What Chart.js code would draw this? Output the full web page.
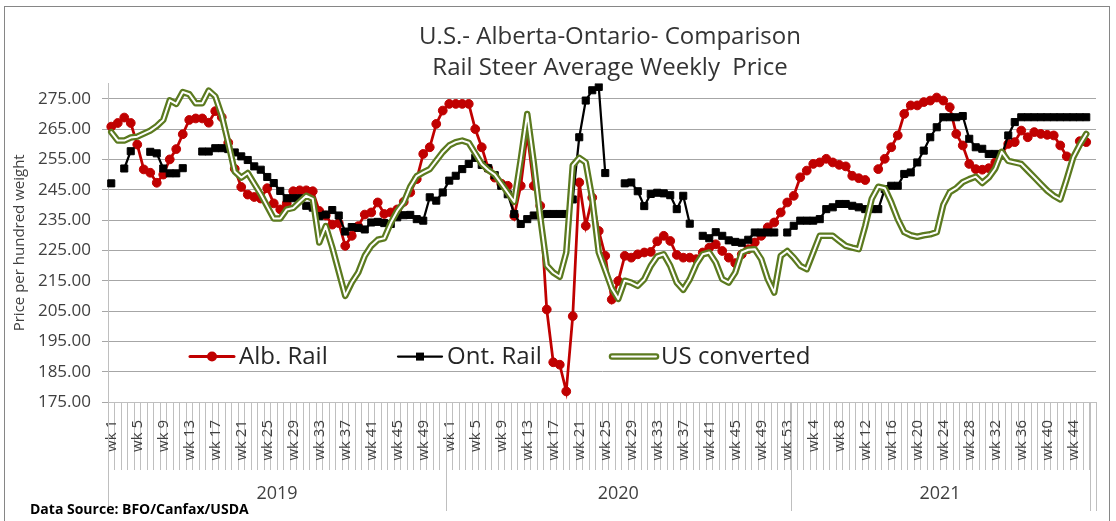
<!DOCTYPE html>
<html>
<head>
<meta charset="utf-8">
<title>U.S.- Alberta-Ontario- Comparison</title>
<script src="https://cdn.jsdelivr.net/npm/chart.js@4.4.1/dist/chart.umd.min.js"></script>
<style>
  html, body { margin: 0; padding: 0; background: #fff; }
</style>
</head>
<body>
<canvas id="priceChart" width="1116" height="521"></canvas>
<script>
// === Categories: weekly, grouped by year (one empty slot at the end) ===
const years = ['2019', '2020', '2021'];
const weeksPerYear = [52, 53, 46];
const xLabels = [];
weeksPerYear.forEach(function (n) {
    for (let w = 1; w <= n; w++) xLabels.push('wk ' + w);
});
xLabels.push('');

const yTicks = [175, 185, 195, 205, 215, 225, 235, 245, 255, 265, 275];

// === Series ($ per hundred weight) ===
const albRail = [
    265.8, 267, 268.8, 267, 259.9, 251.7, 250.6, 247.3, 250, 255,
    258.4, 263.3, 268, 268.5, 268.5, 267.1, 270.9, 268.9, 260.5, 251.9,
    245.9, 243.4, 242.6, 242.1, 245.5, 240.5, 238.5, 240.5, 244.5, 244.8,
    244.8, 244.5, 238, 236.5, 233.5, 234, 226.5, 229.8, 233, 236.8,
    237.5, 240.8, 237, 237.5, 238.5, 241, 244.1, 248.5, 256.8, 259,
    266.7, 271.1,
    273.3, 273.3, 273.3, 273.3, 265, 259, 252, 249, 247, 246.3,
    236.4, 246.3, 263.4, 246.3, 239.7, 205.5, 188.1, 187.3, 178.5, 203.3,
    247.4, 233.1, 242.4, 231.4, 223.2, 208.8, 214.9, 223.2, 222.6, 223.7,
    224.3, 224.5, 228, 229.8, 228.1, 223.5, 222.6, 222.6, 222.1, 224.3,
    225.9, 227, 224.8, 222.6, 220.8, 223.7, 225.4, 227.6, 229.8, 232.6,
    234.2, 237.5, 240.8,
    243, 249.1, 251.3, 253.5, 254, 255.2, 254, 253.2, 252.7, 249.6,
    248.8, 248.2, null, 251.8, 255.2, 259, 262.9, 270, 272.8, 272.8,
    273.9, 274.4, 275.4, 274.4, 272.2, 263.4, 259.6, 253.5, 251.8, 251.6,
    252.1, 254, 256.8, 260.1, 260.7, 264.5, 262.3, 264, 263.4, 263.1,
    262.9, 259.6, 256, null, 261, 260.7,
    null
];

const ontRail = [
    247.1, null, 252, 257.7, null, null, 257.5, 257, 252, 250.4,
    250.4, 252.1, null, null, 257.6, 257.6, 258.7, 258.7, 258.4, 257.3,
    256, 254.8, 252.7, 251.6, 249.2, 247.2, 244.6, 242.2, 242.2, 242.2,
    239.7, 239.1, 236.3, 236.8, 238.3, 236.5, 231.2, 232.7, 232.4, 231.9,
    234.2, 234.4, 234, 233.7, 235.9, 236.6, 236.7, 235.3, 234.8, 242.5,
    241.4, 244.1,
    248, 249.6, 251.8, 253.5, 255.5, 253.2, 252.1, 249.8, 246.3, 243.5,
    237, 233.7, 235.3, 236.5, 236.6, 237, 237, 237, 237, 241.8,
    262.3, 274.4, 277.8, 278.9, 250.5, null, null, 247.1, 247.4, 244.5,
    239.6, 243.6, 244, 243.8, 243.2, 238.6, 243, 233.8, null, 229.8,
    229, 231, 229.8, 228.3, 227.8, 227.5, 228.5, 230.9, 230.9, 230.9,
    230.9, null, 230.9,
    233.1, 234.8, 234.8, 234.8, 235.3, 238.6, 239.2, 240.3, 240.3, 239.7,
    239.2, 238.6, 238.6, 238.6, 245.2, 246.3, 246.3, 250.2, 250.7, 254,
    257.9, 262.3, 265.6, 268.9, 268.9, 268.9, 269.3, 261.8, 259, 258.5,
    256.8, 256.8, 256.3, 262.9, 267.3, 268.9, 268.9, 268.9, 268.9, 268.9,
    268.9, 268.9, 268.9, 268.9, 268.9, 268.9,
    null
];

const usConverted = [
    264, 261.2, 261.2, 262.2, 262.5, 263.5, 264.5, 266, 268, 274.5,
    273.3, 277.2, 276.5, 273.5, 273.5, 277.7, 275.8, 269.5, 260.5, 251,
    249, 250.5, 247, 243.5, 239.5, 235.5, 235.5, 238.5, 239, 241,
    243, 242, 227.6, 233, 226, 218, 210, 214.4, 217.7, 223.2,
    226.5, 228.5, 229, 234, 238, 240.8, 246, 249.5, 250.7, 251.8,
    254.6, 257.4,
    259.6, 260.7, 261.2, 260.5, 257, 253.5, 251.5, 250, 247, 244,
    241, 255, 270, 254, 236, 220, 217.7, 216.3, 224.3, 253,
    255.5, 254, 242, 224.3, 218.5, 212.5, 209, 215, 214.4, 213.3,
    215.5, 219.9, 223, 223.7, 219.9, 214.4, 212, 215.5, 220.4, 223.7,
    224.3, 221, 215.5, 214.4, 217.7, 224.3, 225.2, 225.4, 222.1, 215.5,
    211.1, 223.2, 224.8,
    222.6, 219.9, 218.8, 224.3, 229.8, 229.8, 229.8, 228.1, 226.5, 225.9,
    225.4, 233.1, 242, 246, 245.5, 240.8, 235.3, 231, 230, 229.5,
    230, 230.3, 231, 240, 244.2, 245.5, 247.5, 248.5, 249.3, 247.2,
    249, 252, 257.5, 254.5, 254, 253.5, 251.3, 249.1, 246.9, 244.7,
    243, 241.8, 248.5, 255.7, 259.8, 263.4,
    null
];

const titleLines = ['U.S.- Alberta-Ontario- Comparison', 'Rail Steer Average Weekly  Price'];
const sourceNote = 'Data Source: BFO/Canfax/USDA';

const RED = '#c00000';
const OLIVE = '#5b7a1f';
const FONT = "'Open Sans', 'Liberation Sans', sans-serif";

// legend items drawn inside the plot, offsets from the plot's left edge
const legendItems = [
    { label: 'Alb. Rail', kind: 'circle', dx: 82 },
    { label: 'Ont. Rail', kind: 'square', dx: 290 },
    { label: 'US converted', kind: 'double', dx: 504 }
];

// nudge the title a little right of the plot centre, as in the original
const titleNudge = {
    id: 'titleNudge',
    afterLayout(chart) {
        if (chart.titleBlock) {
            chart.titleBlock.left += 8;
            chart.titleBlock.right += 8;
        }
    }
};

const insideLegend = {
    id: 'insideLegend',
    afterDatasetsDraw(chart) {
        const { ctx, chartArea } = chart;
        const y = chartArea.top + 273;
        ctx.save();
        ctx.font = '24px ' + FONT;
        ctx.textBaseline = 'middle';
        ctx.textAlign = 'left';
        legendItems.forEach(function (item) {
            const x0 = chartArea.left + item.dx;
            const x1 = x0 + 44;
            const xm = (x0 + x1) / 2;
            ctx.lineCap = 'round';
            if (item.kind === 'circle') {
                ctx.strokeStyle = RED; ctx.lineWidth = 3;
                ctx.beginPath(); ctx.moveTo(x0, y); ctx.lineTo(x1, y); ctx.stroke();
                ctx.fillStyle = RED;
                ctx.beginPath(); ctx.arc(xm, y, 5, 0, Math.PI * 2); ctx.fill();
            } else if (item.kind === 'square') {
                ctx.strokeStyle = '#000'; ctx.lineWidth = 2.25;
                ctx.beginPath(); ctx.moveTo(x0, y); ctx.lineTo(x1, y); ctx.stroke();
                ctx.fillStyle = '#000';
                ctx.fillRect(xm - 4, y - 4, 8, 8);
            } else {
                ctx.strokeStyle = OLIVE; ctx.lineWidth = 6.5;
                ctx.beginPath(); ctx.moveTo(x0, y); ctx.lineTo(x1, y); ctx.stroke();
                ctx.strokeStyle = '#fff'; ctx.lineWidth = 2;
                ctx.beginPath(); ctx.moveTo(x0, y); ctx.lineTo(x1, y); ctx.stroke();
            }
            ctx.fillStyle = '#262626';
            ctx.fillText(item.label, x1 + 5, y + 1);
        });
        ctx.restore();
    }
};

// second row of the category axis: year groups, separators, source note, frame
const yearRow = {
    id: 'yearRow',
    afterDraw(chart) {
        const { ctx } = chart;
        const xs = chart.scales.x;
        const w = (xs.right - xs.left) / xLabels.length;
        const top = xs.top;
        const bottom = xs.top + 109;
        ctx.save();
        ctx.strokeStyle = '#bfbfbf';
        ctx.lineWidth = 1;
        const vline = function (x) {
            const px = Math.round(x) + 0.5;
            ctx.beginPath(); ctx.moveTo(px, top); ctx.lineTo(px, bottom); ctx.stroke();
        };
        vline(xs.left);
        ctx.font = '18px ' + FONT;
        ctx.fillStyle = '#404040';
        ctx.textAlign = 'center';
        ctx.textBaseline = 'middle';
        let start = 0;
        years.forEach(function (yr, k) {
            const end = start + weeksPerYear[k];
            vline(xs.left + end * w);
            ctx.fillText(yr, xs.left + (start + end) / 2 * w, top + 92);
            start = end;
        });
        vline(xs.right);

        ctx.font = 'bold 14px ' + FONT;
        ctx.fillStyle = '#000';
        ctx.textAlign = 'left';
        ctx.fillText(sourceNote, 30, chart.height - 11);

        ctx.strokeStyle = '#868686';
        ctx.strokeRect(4.5, 6.5, 1105, chart.height + 10);
        ctx.restore();
    }
};

const ctx = document.getElementById('priceChart').getContext('2d');
new Chart(ctx, {
    type: 'line',
    data: {
        labels: xLabels,
        datasets: [
            {
                label: 'Alb. Rail',
                data: albRail,
                borderColor: RED,
                backgroundColor: RED,
                borderWidth: 2.75,
                pointStyle: 'circle',
                pointRadius: 4.4,
                pointBorderWidth: 1,
                order: 3
            },
            {
                label: 'Ont. Rail',
                data: ontRail,
                borderColor: '#000',
                backgroundColor: '#000',
                borderWidth: 2.25,
                pointStyle: 'rect',
                pointRadius: 5,
                pointBorderWidth: 1,
                order: 2
            },
            {
                label: 'US converted',
                data: usConverted,
                borderColor: OLIVE,
                borderWidth: 6.5,
                borderCapStyle: 'round',
                borderJoinStyle: 'round',
                pointRadius: 0,
                order: 1
            },
            {
                label: 'US converted (inner)',
                data: usConverted,
                borderColor: '#ffffff',
                borderWidth: 2,
                borderCapStyle: 'round',
                borderJoinStyle: 'round',
                pointRadius: 0,
                order: 0
            }
        ]
    },
    options: {
        responsive: false,
        devicePixelRatio: 1,
        animation: false,
        tension: 0,
        layout: { padding: { left: 0, right: 20, top: 0, bottom: 0 } },
        plugins: {
            legend: { display: false },
            tooltip: { enabled: false },
            title: {
                display: true,
                text: titleLines,
                fullSize: false,
                color: '#333',
                font: { family: FONT, size: 24, weight: 'normal', lineHeight: 1.283 },
                padding: { top: 22, bottom: 0 }
            }
        },
        scales: {
            x: {
                type: 'category',
                offset: true,
                grid: { offset: true, drawOnChartArea: false, tickLength: 68, color: '#bfbfbf' },
                border: { color: '#bfbfbf' },
                ticks: {
                    autoSkip: false,
                    minRotation: 90,
                    maxRotation: 90,
                    padding: -50,
                    color: '#404040',
                    font: { family: FONT, size: 15 },
                    callback: function (value, index) {
                        return index % 4 === 0 ? xLabels[index] : '';
                    }
                },
                afterFit: function (scale) { scale.height = 119; }
            },
            y: {
                min: 175,
                max: 280,
                afterBuildTicks: function (scale) {
                    scale.ticks = yTicks.map(function (v) { return { value: v }; });
                },
                grid: { color: '#a6a6a6', tickLength: 6 },
                border: { color: '#bfbfbf' },
                ticks: {
                    padding: 11,
                    color: '#404040',
                    font: { family: FONT, size: 17 },
                    callback: function (v) { return Number(v).toFixed(2); }
                },
                title: {
                    display: true,
                    text: 'Price per hundred weight',
                    color: '#404040',
                    font: { family: FONT, size: 15 },
                    padding: { top: 11, bottom: 0 }
                },
                afterFit: function (scale) { scale.width = 108; }
            }
        }
    },
    plugins: [titleNudge, insideLegend, yearRow]
});
</script>
</body>
</html>
